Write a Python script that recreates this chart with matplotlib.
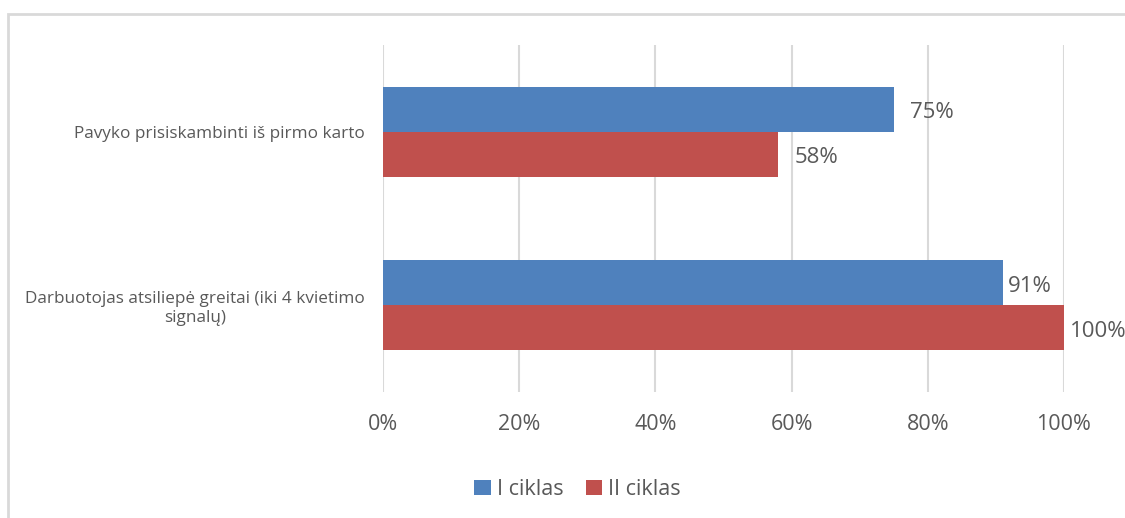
import matplotlib.pyplot as plt
from matplotlib.patches import Rectangle
import numpy as np

categories = ["Pavyko prisiskambinti iš pirmo karto",
              "Darbuotojas atsiliepė greitai (iki 4 kvietimo\nsignalų)"]
cycle_1 = [75, 91]
cycle_2 = [58, 100]
series_names = ["I ciklas", "II ciklas"]
ticks = [0, 20, 40, 60, 80, 100]

plt.rcParams["font.family"] = ["Open Sans", "DejaVu Sans"]
text_color = "#595959"
blue = "#4f81bd"
red = "#c0504d"

fig = plt.figure(figsize=(11.25, 5.18), dpi=100)
ax = fig.add_axes([0.3404, 0.2432, 0.6053, 0.670])

# outer chart frame
fig.patches.append(Rectangle((8 / 1125, -0.05), 1.2, 1 - 14 / 518 + 0.05,
                             transform=fig.transFigure, fill=False,
                             edgecolor="#d9d9d9", linewidth=2))

y = np.arange(len(categories))
h = 0.26
b1 = ax.barh(y - h / 2, cycle_1, height=h, color=blue, label=series_names[0])
b2 = ax.barh(y + h / 2, cycle_2, height=h, color=red, label=series_names[1])

for bars, vals in ((b1, cycle_1), (b2, cycle_2)):
    for bar, v in zip(bars, vals):
        # labels close to the right edge sit tighter against the bar
        gap = 12 if v < 90 else 4
        ax.annotate(f"{v}%", (v, bar.get_y() + bar.get_height() / 2),
                    xytext=(gap, -2.5), textcoords="offset points",
                    va="center", ha="left", fontsize=16, color=text_color)

ax.set_xlim(0, 100)
ax.set_ylim(1.5, -0.5)
ax.set_xticks(ticks)
ax.set_xticklabels([f"{t}%" for t in ticks], fontsize=15.5, color=text_color)
ax.set_yticks(y)
ax.set_yticklabels(categories, fontsize=12.3, color=text_color,
                   multialignment="center")
ax.tick_params(axis="y", length=0, pad=13)
ax.tick_params(axis="x", length=0, pad=16)
ax.grid(axis="x", color="#d9d9d9", linewidth=1.5)
ax.set_axisbelow(True)
for s in ax.spines.values():
    s.set_visible(False)

fig.legend(handles=[b1, b2], loc="center", bbox_to_anchor=(0.5133, 0.055),
           ncol=2, frameon=False, fontsize=15.5, labelcolor=text_color,
           handlelength=0.75, handleheight=0.75, handletextpad=0.28,
           columnspacing=1.05)

fig.savefig("out.png", dpi=100)
